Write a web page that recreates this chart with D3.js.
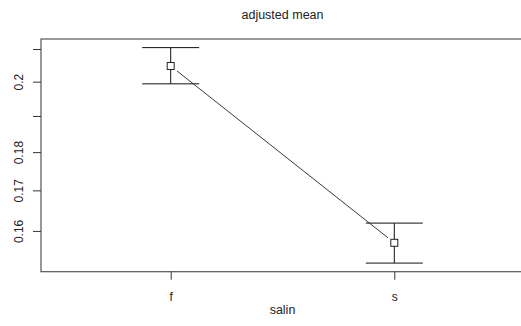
<!DOCTYPE html>
<html>
<head>
<meta charset="utf-8">
<script src="https://cdn.jsdelivr.net/npm/d3@7"></script>
<style>
  body { margin: 0; background: #fff; }
  svg text { font-family: "Liberation Sans", Arial, sans-serif; fill: #222; }
</style>
</head>
<body>
<div id="chart"></div>
<script>
// data
var categories = ["f", "s"];
var means = [0.2049, 0.1573];
var upper = [0.2106, 0.1620];
var lower = [0.1995, 0.1526];
var yTicks = [0.16, 0.17, 0.18, 0.19, 0.20, 0.21];
var yTickLabels = ["0.16", "0.17", "0.18", "", "0.2", ""];

var width = 521, height = 326;
var plotLeft = 41, plotRight = 524, plotTop = 39, plotBottom = 271.7;

var svg = d3.select("#chart").append("svg")
  .attr("width", width)
  .attr("height", height);

// R style: x positions 1..n, limits padded 4% around 0.5..n+0.5
var xlo = 0.5, xhi = categories.length + 0.5;
var xpad = (xhi - xlo) * 0.04;
var x = d3.scaleLinear()
  .domain([xlo - xpad, xhi + xpad])
  .range([plotLeft, plotRight]);

var lmin = Math.log(d3.min(lower)), lmax = Math.log(d3.max(upper));
var ypad = (lmax - lmin) * 0.04;
var y = d3.scaleLog()
  .domain([Math.exp(lmin - ypad), Math.exp(lmax + ypad)])
  .range([plotBottom, plotTop]);

// box
svg.append("rect")
  .attr("x", plotLeft).attr("y", plotTop)
  .attr("width", plotRight - plotLeft).attr("height", plotBottom - plotTop)
  .attr("fill", "none")
  .attr("stroke", "#555")
  .attr("stroke-width", 1.2);

// y axis
var yAxis = svg.append("g")
  .attr("transform", "translate(" + plotLeft + ",0)")
  .call(d3.axisLeft(y).tickValues(yTicks).tickSize(8)
    .tickFormat(function (d, i) { return yTickLabels[i]; }));
yAxis.select(".domain").remove();
yAxis.selectAll(".tick").attr("transform", null);
yAxis.selectAll(".tick line")
  .attr("stroke", "#333")
  .attr("y1", function (d) { return y(d); })
  .attr("y2", function (d) { return y(d); });
yAxis.selectAll(".tick text")
  .attr("x", -22)
  .attr("y", function (d) { return y(d); })
  .attr("dy", "0.35em")
  .attr("transform", function (d) { return "rotate(-90," + (-22) + "," + y(d) + ")"; })
  .attr("text-anchor", "middle")
  .style("font-size", "12px");

// x axis
var xAxis = svg.append("g")
  .attr("transform", "translate(0," + plotBottom + ")")
  .call(d3.axisBottom(x).tickValues(d3.range(1, categories.length + 1)).tickSize(8)
    .tickFormat(function (d) { return categories[d - 1]; }));
xAxis.select(".domain").remove();
xAxis.selectAll("line").attr("stroke", "#333");
xAxis.selectAll("text")
  .attr("y", 21)
  .style("font-size", "12px");

// titles
svg.append("text")
  .attr("x", (plotLeft + plotRight) / 2).attr("y", 19)
  .attr("text-anchor", "middle")
  .style("font-size", "12.5px")
  .text("adjusted mean");

svg.append("text")
  .attr("x", (plotLeft + plotRight) / 2).attr("y", 314)
  .attr("text-anchor", "middle")
  .style("font-size", "12.5px")
  .text("salin");

// error bars
var capHalf = 28.5;
var bars = svg.append("g").attr("stroke", "#111").attr("stroke-width", 1);
categories.forEach(function (c, i) {
  var cx = x(i + 1);
  bars.append("line")
    .attr("x1", cx).attr("x2", cx)
    .attr("y1", y(upper[i])).attr("y2", y(lower[i]));
  bars.append("line")
    .attr("x1", cx - capHalf).attr("x2", cx + capHalf)
    .attr("y1", y(upper[i])).attr("y2", y(upper[i]));
  bars.append("line")
    .attr("x1", cx - capHalf).attr("x2", cx + capHalf)
    .attr("y1", y(lower[i])).attr("y2", y(lower[i]));
});

// connecting line with gaps at the points (type = "b")
var gap = 8;
for (var i = 0; i < means.length - 1; i++) {
  var x1 = x(i + 1), y1 = y(means[i]), x2 = x(i + 2), y2 = y(means[i + 1]);
  var len = Math.hypot(x2 - x1, y2 - y1);
  var ux = (x2 - x1) / len, uy = (y2 - y1) / len;
  svg.append("line")
    .attr("x1", x1 + ux * gap).attr("y1", y1 + uy * gap)
    .attr("x2", x2 - ux * gap).attr("y2", y2 - uy * gap)
    .attr("stroke", "#222").attr("stroke-width", 0.9);
}

// points
svg.selectAll(".pt")
  .data(means)
  .enter().append("rect")
  .attr("class", "pt")
  .attr("x", function (d, i) { return x(i + 1) - 3.5; })
  .attr("y", function (d) { return y(d) - 3.5; })
  .attr("width", 7).attr("height", 7)
  .attr("fill", "#fff")
  .attr("stroke", "#222")
  .attr("stroke-width", 1);
</script>
</body>
</html>
